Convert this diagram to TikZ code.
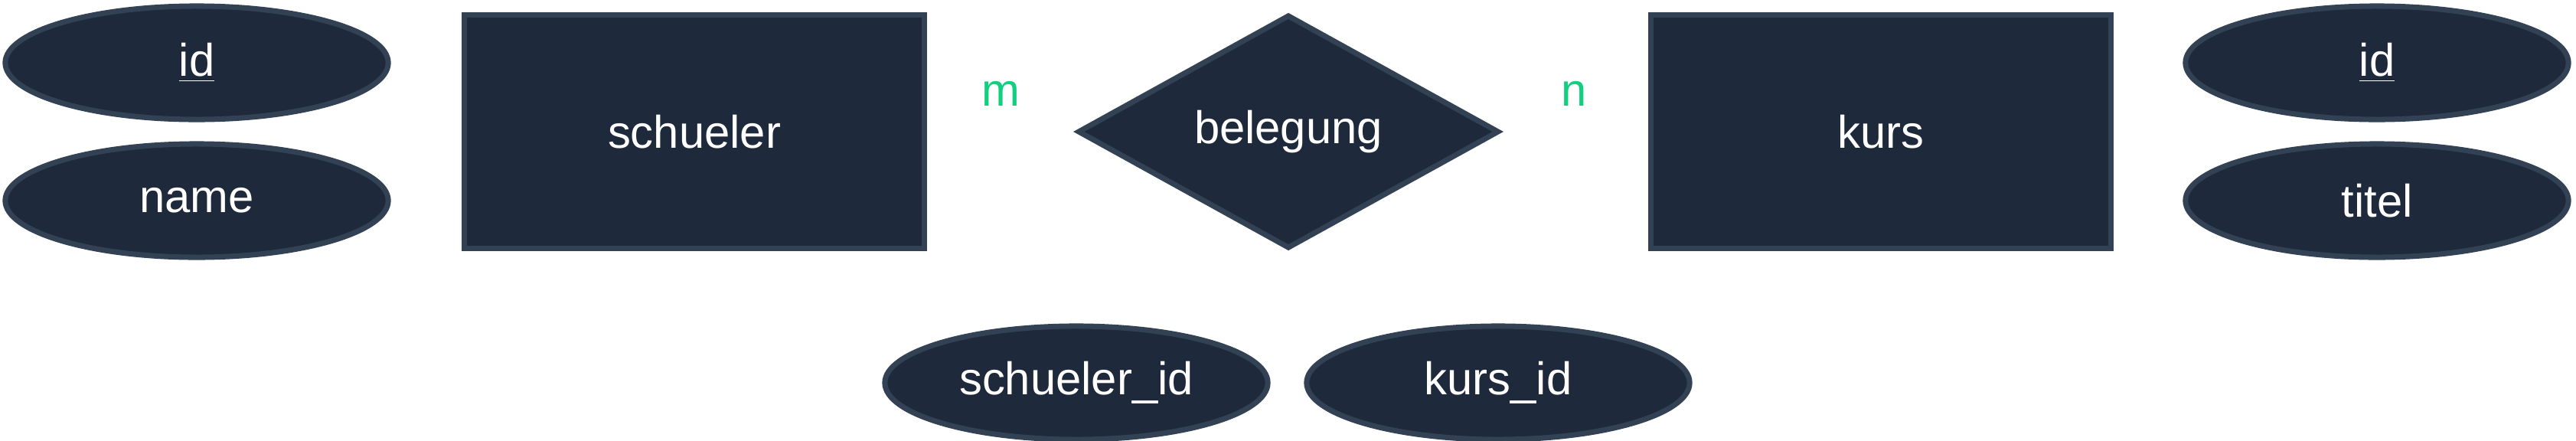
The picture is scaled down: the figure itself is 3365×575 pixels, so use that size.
\documentclass[tikz,border=0pt]{standalone}
\usepackage{fontspec}
\setmainfont{Liberation Sans}
\usetikzlibrary{shapes.geometric,backgrounds}
\definecolor{fillc}{HTML}{1E293B}
\definecolor{edgec}{HTML}{334155}
\definecolor{card}{RGB}{16,208,128}
\begin{document}
\begin{tikzpicture}[x=0.01cm,y=-0.01cm,
  base/.style={fill=fillc,draw=edgec,line width=2pt,text=white,font=\fontsize{17}{20}\selectfont,inner sep=0pt},
  attr/.style={base,ellipse,minimum width=5cm,minimum height=1.48cm},
  ent/.style={base,rectangle,minimum width=6cm,minimum height=3.05cm},
  rel/.style={base,diamond,minimum width=5.5cm,minimum height=3.05cm,aspect=1.8},
  conn/.style={draw=white,line width=1pt},
  lbl/.style={text=card,font=\fontsize{17}{20}\selectfont}]
\useasboundingbox (0,0) rectangle (3365,575);
\node[attr] (aid) at (257,82) {\underline{id}};
\node[attr] (aname) at (257,262) {name};
\node[ent] (sch) at (907,172) {schueler};
\node[rel] (bel) at (1683,172) {belegung};
\node[ent] (kurs) at (2457,172) {kurs};
\node[attr] (bid) at (3105,82) {\underline{id}};
\node[attr] (btit) at (3105,262) {titel};
\node[attr] (sid) at (1406,500) {schueler\_id};
\node[attr] (kid) at (1957,500) {kurs\_id};
\node[lbl] (m) at (1307,122) {m};
\node[lbl] (n) at (2056,122) {n};
\begin{scope}[on background layer]
\draw[conn] (aid.east) -- (sch.west);
\draw[conn] (aname.east) -- (sch.west);
\draw[conn] (sch.east) -- (bel.west);
\draw[conn] (bel.east) -- (kurs.west);
\draw[conn] (kurs.east) -- (bid.west);
\draw[conn] (kurs.east) -- (btit.west);
\draw[conn] (bel.south west) -- (sid.north);
\draw[conn] (bel.south east) -- (kid.north);
\end{scope}
\end{tikzpicture}
\end{document}
